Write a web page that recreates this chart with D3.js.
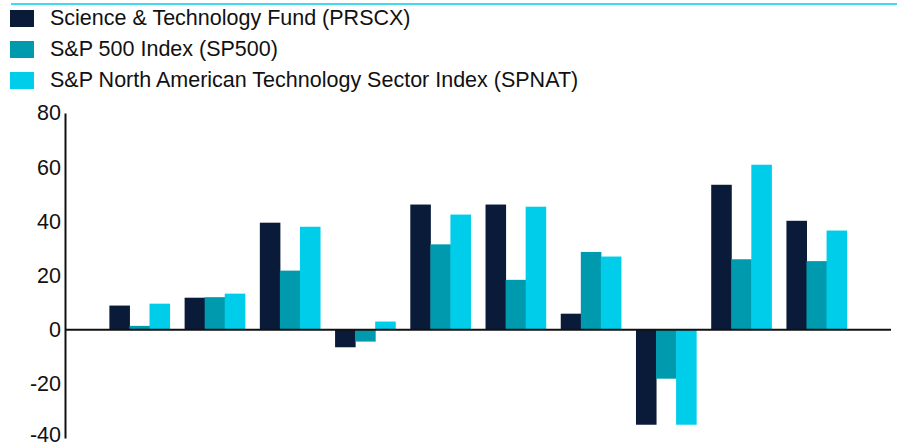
<!DOCTYPE html>
<html lang="en">
  <head>
    <meta charset="UTF-8">
    <title>Annual returns</title>
    <script src="https://cdn.jsdelivr.net/npm/d3@7"></script>
    <style>
      html, body {
        margin: 0;
        padding: 0;
        background: #fff;
      }
      body {
        font-family: 'Liberation Sans', Arial, sans-serif;
      }
    </style>
  </head>
  <body>
    <script>
      // calendar years (not labelled on the chart)
      const years = ['2015', '2016', '2017', '2018', '2019', '2020', '2021', '2022', '2023', '2024'];
      const seriesNames = [
        'Science & Technology Fund (PRSCX)',
        'S&P 500 Index (SP500)',
        'S&P North American Technology Sector Index (SPNAT)'
      ];
      const prscx = [8.9, 11.8, 39.5, -6.5, 46.2, 46.2, 5.9, -35.1, 53.5, 40.2];
      const sp500 = [1.4, 12.0, 21.8, -4.4, 31.5, 18.4, 28.7, -18.1, 26.0, 25.3];
      const spnat = [9.6, 13.3, 38.0, 3.0, 42.5, 45.4, 27.0, -35.1, 60.9, 36.6];
      const yTicks = [-40, -20, 0, 20, 40, 60, 80];
      const colors = ['#0a1b3a', '#009aae', '#00cdea'];

      const width = 897, height = 447;
      const plot = { left: 65, right: 891, top: 113, bottom: 438 };
      const fontSize = 21.5;

      const svg = d3.select('body').append('svg')
        .attr('width', width)
        .attr('height', height);

      // top rule
      svg.append('line')
        .attr('x1', 11).attr('x2', width)
        .attr('y1', 4).attr('y2', 4)
        .attr('stroke', '#00cdea')
        .attr('stroke-width', 1.5);

      // legend
      const legend = svg.append('g').attr('class', 'legend');
      const item = legend.selectAll('g')
        .data(seriesNames)
        .enter()
        .append('g')
        .attr('transform', (d, i) => `translate(10, ${10 + i * 31})`);
      item.append('rect')
        .attr('width', 24)
        .attr('height', 17)
        .attr('fill', (d, i) => colors[i]);
      item.append('text')
        .attr('x', 40)
        .attr('y', 15)
        .attr('font-size', fontSize)
        .attr('fill', '#111')
        .text(d => d);

      const y = d3.scaleLinear()
        .domain([-40, 80])
        .range([plot.bottom, plot.top]);

      const x = d3.scaleBand()
        .domain(years)
        .range([plot.left, plot.right])
        .paddingInner(0.2)
        .paddingOuter(0.59);

      const xSub = d3.scaleBand()
        .domain([0, 1, 2])
        .range([0, x.bandwidth()]);

      const rows = years.map((yr, i) => ({ year: yr, values: [prscx[i], sp500[i], spnat[i]] }));

      svg.append('g')
        .selectAll('g')
        .data(rows)
        .enter()
        .append('g')
        .attr('transform', d => `translate(${x(d.year)}, 0)`)
        .selectAll('rect')
        .data(d => d.values)
        .enter()
        .append('rect')
        .attr('x', (d, i) => xSub(i))
        .attr('width', xSub.bandwidth() + 0.5)
        .attr('y', d => y(Math.max(0, d)))
        .attr('height', d => Math.abs(y(d) - y(0)))
        .attr('fill', (d, i) => colors[i]);

      // y axis
      const yAxis = d3.axisLeft(y)
        .tickValues(yTicks)
        .tickSize(0)
        .tickPadding(4)
        .tickFormat(d => String(d));

      const gy = svg.append('g')
        .attr('transform', `translate(${plot.left}, 0)`)
        .call(yAxis);
      gy.select('.domain')
        .attr('stroke', '#111')
        .attr('stroke-width', 2);
      gy.selectAll('.tick text')
        .attr('font-size', fontSize)
        .attr('font-family', "'Liberation Sans', Arial, sans-serif")
        .attr('fill', '#111');
      // bottom label sits a little higher so it stays inside the frame
      gy.selectAll('.tick text')
        .filter(d => d === -40)
        .attr('y', -3);

      // zero line
      svg.append('line')
        .attr('x1', plot.left).attr('x2', plot.right)
        .attr('y1', y(0)).attr('y2', y(0))
        .attr('stroke', '#111')
        .attr('stroke-width', 2);
    </script>
  </body>
</html>
